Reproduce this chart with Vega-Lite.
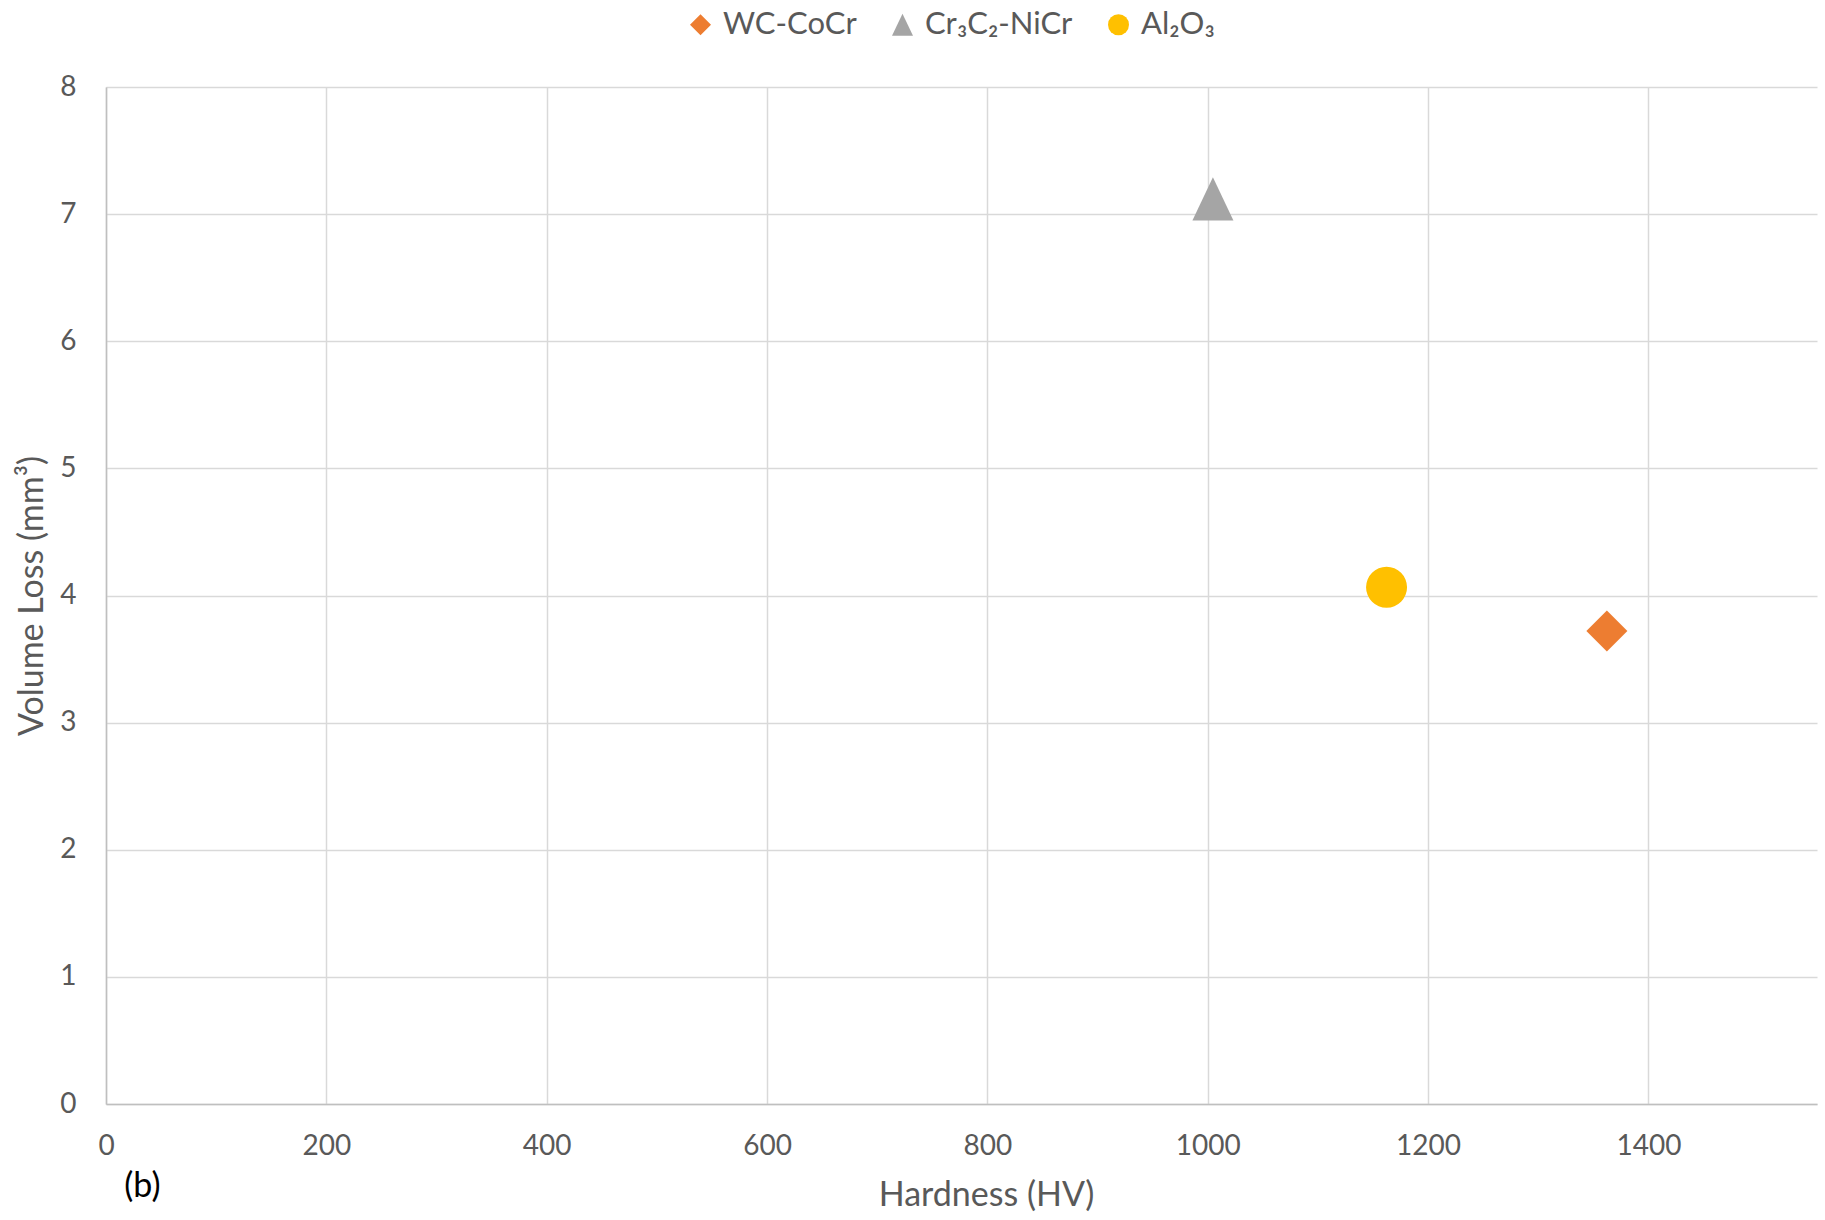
{
  "$schema": "https://vega.github.io/schema/vega-lite/v6.json",
  "autosize": "none",
  "width": 1711,
  "height": 1017,
  "padding": {"left": 106, "top": 87, "right": 8, "bottom": 116},
  "background": "white",
  "config": {
    "view": {"stroke": null},
    "font": "Lato",
    "axis": {
      "labelFont": "Lato",
      "labelFontSize": 28,
      "labelColor": "#595959",
      "titleFont": "Lato",
      "titleFontSize": 34,
      "titleFontWeight": "normal",
      "titleColor": "#595959",
      "gridColor": "#D9D9D9",
      "gridWidth": 1.5,
      "domainColor": "#BFBFBF",
      "domainWidth": 1.5,
      "ticks": false,
      "labelFlush": false
    },
    "legend": {
      "labelFont": "Lato",
      "labelFontSize": 31,
      "labelColor": "#595959",
      "padding": 0,
      "symbolSize": 441,
      "symbolStrokeWidth": 0,
      "columnPadding": 30,
      "labelOffset": 7
    }
  },
  "data": {
    "values": [
      {"material": "WC-CoCr", "hardness": 1362.3, "loss": 3.72},
      {"material": "Cr₃C₂-NiCr", "hardness": 1004.7, "loss": 7.12},
      {"material": "Al₂O₃", "hardness": 1162.3, "loss": 4.065}
    ]
  },
  "layer": [
    {
      "mark": {"type": "point", "filled": true, "opacity": 1, "size": 1681, "strokeWidth": 0},
      "encoding": {
        "x": {
          "field": "hardness",
          "type": "quantitative",
          "title": "Hardness (HV)",
          "scale": {"domain": [0, 1553], "nice": false, "zero": true},
          "axis": {
            "values": [0, 200, 400, 600, 800, 1000, 1200, 1400],
            "format": "d",
            "labelPadding": 28,
            "titlePadding": 18,
            "titleX": 880
          }
        },
        "y": {
          "field": "loss",
          "type": "quantitative",
          "title": "Volume Loss (mm³)",
          "scale": {"domain": [0, 8], "nice": false},
          "axis": {
            "values": [0, 1, 2, 3, 4, 5, 6, 7, 8],
            "format": "d",
            "labelPadding": 30,
            "titlePadding": 10
          }
        },
        "color": {
          "field": "material",
          "type": "nominal",
          "scale": {
            "domain": ["WC-CoCr", "Cr₃C₂-NiCr", "Al₂O₃"],
            "range": ["#ED7D31", "#A5A5A5", "#FFC000"]
          },
          "legend": {
            "title": null,
            "orient": "none",
            "direction": "horizontal",
            "legendX": 579,
            "legendY": -78
          }
        },
        "shape": {
          "field": "material",
          "type": "nominal",
          "scale": {
            "domain": ["WC-CoCr", "Cr₃C₂-NiCr", "Al₂O₃"],
            "range": ["diamond", "M0,-1.05L-1,1.05L1,1.05Z", "circle"]
          },
          "legend": {
            "title": null,
            "orient": "none",
            "direction": "horizontal",
            "legendX": 579,
            "legendY": -78
          }
        }
      }
    },
    {
      "data": {"values": [{"label": "(b)"}]},
      "mark": {"type": "text", "font": "Lato", "fontSize": 34, "color": "#000000", "align": "center", "baseline": "middle"},
      "encoding": {
        "text": {"field": "label"},
        "x": {"datum": 33},
        "y": {"datum": -0.65}
      }
    }
  ]
}
